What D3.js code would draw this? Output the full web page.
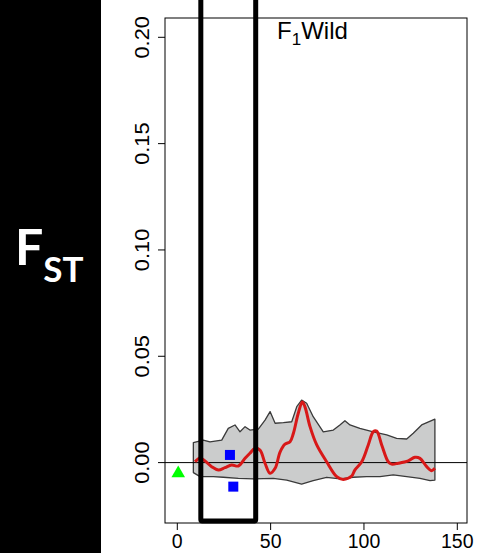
<!DOCTYPE html>
<html>
<head>
<meta charset="utf-8">
<script src="https://cdn.jsdelivr.net/npm/d3@7"></script>
<style>
  body { margin: 0; background: #fff; }
  text { font-family: "Liberation Sans", Arial, sans-serif; }
</style>
</head>
<body>
<div id="chart"></div>
<script>
let svgWidth = 480;
let svgHeight = 553;

// data
let xTicks = [0, 50, 100, 150];
let yTicks = [0, 0.05, 0.10, 0.15, 0.20];

// smoothed FST (red line)
let smoothX = [9.5, 12.2, 14.8, 18.4, 22, 25.5, 29.1, 32.7, 36.3, 38.9, 41.6, 44.3, 47, 49.7, 52.4, 55.1, 57.7, 60.4, 62.2, 64.8, 67, 68.4, 71.1, 74.7, 80, 85.4, 88.9, 93.4, 95.1, 98.8, 102.3, 105, 106.8, 109.5, 113, 114.8, 118.4, 123.7, 127.3, 130, 133.6, 136.3, 138];
let smoothY = [0.0004, 0.0022, 0.0008, -0.0019, -0.0035, -0.0024, -0.0011, -0.0016, 0.002, 0.0044, 0.0067, 0.0059, -0.0003, -0.005, -0.0027, 0.0051, 0.0087, 0.0098, 0.0138, 0.0232, 0.0285, 0.0262, 0.0169, 0.0083, 0.0004, -0.0066, -0.0079, -0.0063, -0.0035, 0.0004, 0.0083, 0.0145, 0.0148, 0.0083, 0.0004, -0.0007, -0.0003, 0.0008, 0.0025, 0.002, -0.0019, -0.0038, -0.0027];

// null envelope (grey band)
let upperX = [8.6, 13.9, 17.5, 23.8, 27.3, 30.9, 33.6, 36.3, 38.9, 43.4, 47, 49.7, 52.4, 56.8, 61.3, 64, 66.6, 69.3, 72.8, 78.2, 83.6, 87.1, 89.8, 92.5, 97.8, 105, 112.2, 117.5, 122.9, 126.4, 130.9, 138];
let upperY = [0.0094, 0.0106, 0.0097, 0.0106, 0.0161, 0.0177, 0.0145, 0.0169, 0.0153, 0.0157, 0.02, 0.024, 0.0185, 0.0188, 0.0192, 0.0263, 0.0294, 0.0279, 0.0216, 0.0145, 0.0153, 0.0177, 0.0197, 0.0177, 0.0161, 0.0145, 0.013, 0.0114, 0.0111, 0.0138, 0.0177, 0.0204];
let lowerX = [8.6, 12.2, 19.3, 24.6, 32.7, 40.7, 51.4, 58.6, 66.6, 72.8, 80, 87.1, 94.3, 101.4, 108.6, 115.7, 122.9, 130, 135.4, 138];
let lowerY = [-0.0047, -0.0066, -0.0066, -0.0069, -0.0074, -0.0077, -0.0074, -0.0082, -0.0101, -0.0085, -0.0069, -0.0077, -0.0069, -0.0066, -0.0066, -0.0058, -0.0066, -0.0074, -0.0085, -0.0082];

// single markers
let squareX = [28.2, 30];
let squareY = [0.0036, -0.0113];
let triangleX = [0.5];
let triangleY = [-0.0051];

// highlighted window
let boxX = [12.6, 42];
let boxY = [-0.0275, 0.25];

let svg = d3.select("#chart")
  .append("svg")
  .attr("width", svgWidth)
  .attr("height", svgHeight);

// black side panel with the axis title
svg.append("rect")
  .attr("x", 0).attr("y", 0)
  .attr("width", 101).attr("height", svgHeight)
  .attr("fill", "#000");

let fst = svg.append("text")
  .attr("x", 15)
  .attr("y", 265)
  .attr("fill", "#fff")
  .style("font-family", "Lato, 'Open Sans', sans-serif")
  .style("font-weight", "bold");
fst.append("tspan").style("font-size", "50px").text("F");
fst.append("tspan").attr("dy", 17).style("font-size", "35px").text("ST");

// plot region
let plot = {left: 165, right: 467, top: 18, bottom: 523};

let x = d3.scaleLinear().domain([0, 150]).range([177.3, 457.3]);
let y = d3.scaleLinear().domain([0, 0.2]).range([462.6, 37.3]);

svg.append("clipPath").attr("id", "clip")
  .append("rect")
  .attr("x", plot.left).attr("y", plot.top)
  .attr("width", plot.right - plot.left)
  .attr("height", plot.bottom - plot.top);

let chartGroup = svg.append("g").attr("clip-path", "url(#clip)");

// grey band: upper edge forward, lower edge back
let bandPts = upperX.map((d, i) => [d, upperY[i]])
  .concat(lowerX.map((d, i) => [d, lowerY[i]]).reverse());

let line = d3.line()
  .x(d => x(d[0]))
  .y(d => y(d[1]));

chartGroup.append("path")
  .attr("d", line(bandPts) + "Z")
  .attr("fill", "#cbcccc")
  .attr("stroke", "#3a3a3a")
  .attr("stroke-width", 1.3)
  .attr("stroke-linejoin", "round");

// zero line
chartGroup.append("line")
  .attr("x1", plot.left).attr("x2", plot.right)
  .attr("y1", y(0)).attr("y2", y(0))
  .attr("stroke", "#000")
  .attr("stroke-width", 1);

// smoothed line
let smoothPts = smoothX.map((d, i) => [d, smoothY[i]]);
chartGroup.append("path")
  .attr("d", line.curve(d3.curveCatmullRom)(smoothPts))
  .attr("fill", "none")
  .attr("stroke", "#d81818")
  .attr("stroke-width", 3)
  .attr("stroke-linejoin", "round");

// blue squares
chartGroup.selectAll(".sq")
  .data(squareX)
  .enter()
  .append("rect")
  .attr("x", (d, i) => x(d) - 5)
  .attr("y", (d, i) => y(squareY[i]) - 5)
  .attr("width", 10)
  .attr("height", 10)
  .attr("fill", "#0000ff");

// green triangle
chartGroup.selectAll(".tri")
  .data(triangleX)
  .enter()
  .append("path")
  .attr("d", d3.symbol().type(d3.symbolTriangle).size(80))
  .attr("transform", (d, i) => `translate(${x(d)}, ${y(triangleY[i])})`)
  .attr("fill", "#00ff00");

// frame
svg.append("rect")
  .attr("x", plot.left).attr("y", plot.top)
  .attr("width", plot.right - plot.left)
  .attr("height", plot.bottom - plot.top)
  .attr("fill", "none")
  .attr("stroke", "#000")
  .attr("stroke-width", 1);

// x axis
let xAxis = svg.append("g");
xAxis.selectAll("line")
  .data(xTicks)
  .enter()
  .append("line")
  .attr("x1", d => x(d)).attr("x2", d => x(d))
  .attr("y1", plot.bottom).attr("y2", plot.bottom + 7)
  .attr("stroke", "#000");
xAxis.selectAll("text")
  .data(xTicks)
  .enter()
  .append("text")
  .attr("x", d => x(d))
  .attr("y", 548)
  .attr("text-anchor", "middle")
  .style("font-size", "19.5px")
  .text(d => d);

// y axis
let yAxis = svg.append("g");
yAxis.selectAll("line")
  .data(yTicks)
  .enter()
  .append("line")
  .attr("x1", plot.left - 7).attr("x2", plot.left)
  .attr("y1", d => y(d)).attr("y2", d => y(d))
  .attr("stroke", "#000");
yAxis.selectAll("text")
  .data(yTicks)
  .enter()
  .append("text")
  .attr("transform", d => `translate(149, ${y(d)}) rotate(-90) scale(1.12, 1)`)
  .attr("text-anchor", "middle")
  .style("font-size", "19.5px")
  .text(d => d3.format(".2f")(d));

// title
let title = svg.append("text")
  .attr("x", 277)
  .attr("y", 38.5)
  .style("font-size", "24px");
title.append("tspan").text("F");
title.append("tspan").attr("dy", 6.5).style("font-size", "17px").text("1");
title.append("tspan").attr("dy", -6.5).text("Wild");

// highlight window
svg.append("rect")
  .attr("x", x(boxX[0]))
  .attr("y", y(boxY[1]))
  .attr("width", x(boxX[1]) - x(boxX[0]))
  .attr("height", y(boxY[0]) - y(boxY[1]))
  .attr("fill", "none")
  .attr("stroke", "#000")
  .attr("stroke-width", 5)
  .attr("rx", 1.5);
</script>
</body>
</html>
